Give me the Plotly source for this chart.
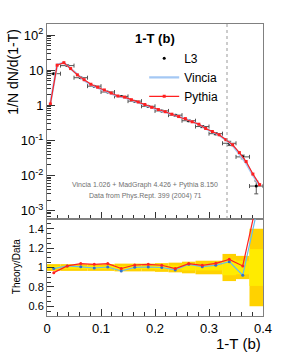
import plotly.graph_objects as go

# ---- data (bin centres of the L3 1-T (b) measurement) ----
data_x = [0.0125, 0.0375, 0.0625, 0.0875, 0.1125, 0.1375, 0.1625, 0.1875,
          0.2125, 0.2375, 0.2625, 0.2875, 0.3125, 0.3375, 0.3625, 0.3875]
data_halfwidth = [0.0125] * 16
data_y = [8.0, 13.6, 6.15, 3.53, 2.40, 1.80, 1.32, 0.94,
          0.694, 0.526, 0.365, 0.249, 0.156, 0.083, 0.034, 0.0050]
# relative uncertainties (total / statistical)
rel_total = [0.035, 0.035, 0.035, 0.035, 0.035, 0.04, 0.04, 0.04,
             0.045, 0.05, 0.06, 0.07, 0.07, 0.14, 0.12, 0.40]
rel_stat = [0.015, 0.015, 0.015, 0.015, 0.015, 0.015, 0.015, 0.015,
            0.02, 0.02, 0.03, 0.03, 0.03, 0.08, 0.07, 0.19]

# MC curves in the main panel (finer binning)
mc_x = [0.00625, 0.01875, 0.03125, 0.04375, 0.05625, 0.06875, 0.08125, 0.09375,
        0.10625, 0.11875, 0.13125, 0.14375, 0.15625, 0.16875, 0.18125, 0.19375,
        0.20625, 0.21875, 0.23125, 0.24375, 0.25625, 0.26875, 0.28125, 0.29375,
        0.30625, 0.31875, 0.33125, 0.34375, 0.35625, 0.36875, 0.38125, 0.39375]
pythia_y = [1.1, 14.0, 16.5, 11.2, 7.4, 5.4, 4.0, 3.3,
            2.75, 2.25, 1.85, 1.72, 1.45, 1.25, 1.06, 0.88,
            0.76, 0.66, 0.56, 0.48, 0.42, 0.34, 0.29, 0.22,
            0.18, 0.145, 0.105, 0.075, 0.045, 0.025, 0.011, 0.0055]
vincia_y = [1.15, 14.6, 16.5, 11.2, 7.2, 5.2, 3.85, 3.2,
            2.65, 2.18, 1.80, 1.68, 1.42, 1.22, 1.03, 0.86,
            0.74, 0.65, 0.55, 0.475, 0.417, 0.338, 0.286, 0.217,
            0.177, 0.142, 0.103, 0.073, 0.041, 0.0225, 0.0103, 0.0052]

# Theory/Data ratios
ratio_pythia = [0.947, 1.016, 1.04, 1.033, 1.04, 0.99, 1.026, 1.033,
                1.023, 0.989, 1.04, 1.023, 1.043, 1.084, 1.016, 1.65]
ratio_vincia = [0.989, 1.016, 1.007, 0.995, 1.005, 0.964, 1.002, 1.005,
                1.0, 0.975, 1.033, 1.009, 1.023, 1.06, 0.92, 1.55]

x_ticks = [0, 0.1, 0.2, 0.3, 0.4]
x_ticklabels = ["0", "0.1", "0.2", "0.3", "0.4"]
y_ticks = [-3, -2, -1, 0, 1, 2]
y_ticklabels = ["10<sup>-3</sup>", "10<sup>-2</sup>", "10<sup>-1</sup>", "1", "10", "10<sup>2</sup>"]
r_ticks = [0.6, 0.8, 1.0, 1.2, 1.4]
r_ticklabels = ["0.6", "0.8", "1", "1.2", "1.4"]

FONT = "Liberation Sans, Arial, Helvetica, sans-serif"
VINCIA_MAIN = "#A4C8F4"
VINCIA_RATIO = "#66BBEE"
VINCIA_DOT = "#3070D0"
PYTHIA = "#FF2020"
FRAME = "#808080"

fig = go.Figure()

# ---- main panel ----
fig.add_trace(go.Scatter(
    x=data_x, y=data_y, mode="markers", name="L3",
    marker=dict(color="black", size=3),
    error_x=dict(type="data", array=data_halfwidth, color="#555555", thickness=1, width=2),
    error_y=dict(type="data", array=[v * e for v, e in zip(data_y, rel_total)],
                 color="#555555", thickness=1, width=2),
    xaxis="x", yaxis="y"))
fig.add_trace(go.Scatter(
    x=mc_x, y=vincia_y, mode="lines", name="Vincia",
    line=dict(color=VINCIA_MAIN, width=2.2),
    xaxis="x", yaxis="y"))
fig.add_trace(go.Scatter(
    x=mc_x, y=pythia_y, mode="lines+markers", name="Pythia",
    line=dict(color=PYTHIA, width=1.2),
    marker=dict(color=PYTHIA, size=3, symbol="square"),
    xaxis="x", yaxis="y"))

# ---- ratio panel ----
fig.add_trace(go.Bar(
    x=data_x, base=[1 - e for e in rel_total], y=[2 * e for e in rel_total],
    width=[2 * w for w in data_halfwidth], marker=dict(color="#FFD200", line=dict(width=0)),
    showlegend=False, xaxis="x2", yaxis="y2", hoverinfo="skip"))
fig.add_trace(go.Bar(
    x=data_x, base=[1 - e for e in rel_stat], y=[2 * e for e in rel_stat],
    width=[2 * w for w in data_halfwidth], marker=dict(color="#FFEB00", line=dict(width=0)),
    showlegend=False, xaxis="x2", yaxis="y2", hoverinfo="skip"))
fig.add_trace(go.Scatter(
    x=data_x, y=ratio_vincia, mode="lines+markers", showlegend=False,
    line=dict(color=VINCIA_RATIO, width=1.2),
    marker=dict(color=VINCIA_DOT, size=3),
    xaxis="x2", yaxis="y2"))
fig.add_trace(go.Scatter(
    x=data_x, y=ratio_pythia, mode="lines+markers", showlegend=False,
    line=dict(color=PYTHIA, width=1.2),
    marker=dict(color=PYTHIA, size=3),
    xaxis="x2", yaxis="y2"))

split = 97 / 292

axis_common = dict(showgrid=False, zeroline=False, linecolor=FRAME, linewidth=1,
                   mirror=True, ticks="inside", tickcolor="#333333", tickwidth=1)

def note(text, x, y, size, color="black", angle=0, xanchor="center"):
    return dict(text=text, xref="paper", yref="paper", x=x, y=y, showarrow=False,
                xanchor=xanchor, yanchor="middle", textangle=angle,
                font=dict(size=size, color=color, family=FONT))

fig.update_layout(
    width=284, height=356,
    margin=dict(l=47, r=17, t=24, b=40),
    paper_bgcolor="white", plot_bgcolor="white",
    font=dict(family=FONT, color="black"),
    barmode="overlay",
    showlegend=True,
    legend=dict(x=0.45, y=0.932, xanchor="left", yanchor="top",
                bgcolor="rgba(0,0,0,0)", font=dict(size=12, family=FONT),
                itemwidth=30, tracegroupgap=0),
    xaxis=dict(domain=[0, 1], range=[0, 0.4], anchor="y",
               tickvals=x_ticks, showticklabels=False, ticklen=7,
               minor=dict(dtick=0.02, ticks="inside", ticklen=4, tickcolor="#333333"),
               **axis_common),
    yaxis=dict(domain=[split, 1], type="log", range=[-3.24, 2.32], anchor="x",
               tickvals=[10 ** p for p in y_ticks], ticktext=y_ticklabels,
               ticklen=8, tickfont=dict(size=13),
               minor=dict(tickvals=[m * 10 ** p for p in range(-4, 3) for m in range(2, 10)],
                          ticks="inside", ticklen=4, tickcolor="#333333"),
               **axis_common),
    xaxis2=dict(domain=[0, 1], range=[0, 0.4], anchor="y2",
                tickvals=x_ticks, ticktext=x_ticklabels, ticklen=7,
                tickfont=dict(size=13),
                minor=dict(dtick=0.02, ticks="inside", ticklen=4, tickcolor="#333333"),
                **axis_common),
    yaxis2=dict(domain=[0, split], range=[0.5, 1.5], anchor="x2",
                tickvals=r_ticks, ticktext=r_ticklabels, ticklen=7,
                tickfont=dict(size=11),
                minor=dict(dtick=0.05, ticks="inside", ticklen=4, tickcolor="#333333"),
                **axis_common),
    shapes=[dict(type="line", xref="x", yref="y domain", x0=1 / 3, x1=1 / 3, y0=0, y1=1,
                 line=dict(color="#999999", width=1, dash="dot"))],
    annotations=[
        note("<b>1-T (b)</b>", 0.5, 0.949, 13),
        note("Vincia 1.026 + MadGraph 4.426 + Pythia 8.150", 0.4545, 0.4486, 7, "#707070"),
        note("Data from Phys.Rept. 399 (2004) 71", 0.4545, 0.411, 7, "#707070"),
        note("1/N dN/d(1-T)", -0.157, 0.837, 14, angle=-90),
        note("Theory/Data", -0.141, 0.169, 10, angle=-90),
        note("1-T (b)", 1.0, -0.0925, 15, xanchor="right"),
    ],
)

fig.write_html("out.html", config={"displayModeBar": False},
               post_script="document.body.style.margin='0';")
